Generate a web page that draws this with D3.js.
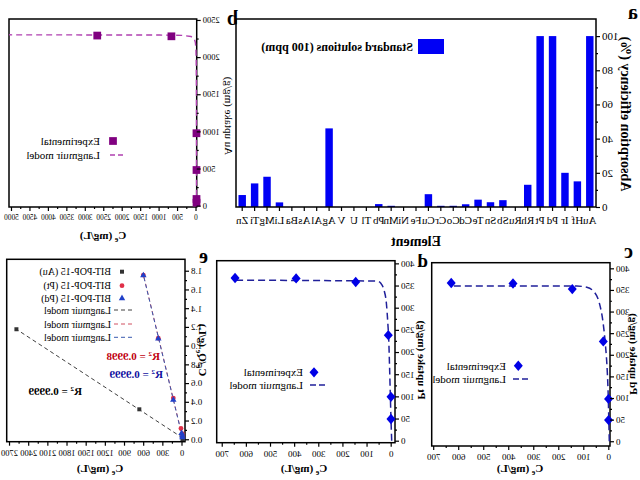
<!DOCTYPE html>
<html><head><meta charset="utf-8">
<script src="https://cdn.jsdelivr.net/npm/d3@7"></script>
<style>
body{margin:0;background:#fff}
svg{display:block}
text{font-family:"Liberation Serif","Times New Roman",serif;fill:#000}
</style>
</head><body>
<svg id="chart" width="640" height="480"></svg>
<script>
// ---------- Panel a : selectivity ----------
const elements = ["Au","Hf","Ir","Pd","Pt","Rh","Ru","Sb","Sn","Te","Cd","Co","Cr","Cu","Fe","Ni","Mn","Pb","Tl","U","V","Ag","Al","As","Ba","Li","Mg","Ti","Zn"];
const efficiency = [100,15,20,100,100,13,0,4,2.8,4.3,1.6,0.7,0.7,7.5,0,0,0.7,1.7,0,0,0,46,0,0,0,2.7,17.7,13.8,7];
const aTicks = [0,20,40,60,80,100];
const aMinor = [10,30,50,70,90];

// ---------- Panel b : Au isotherm ----------
const auCe = [0.2,0.3,0.7,1.5,680,2690];
const auQe = [40,90,480,975,2280,2290];
const auFitCe = [0,0.2,0.5,1,2,4,8,15,30,60,150,400,1000,5080];
const auFitQe = [0,282,596,947,1342,1695,1952,2100,2195,2247,2278,2292,2297,2300];
const bXTicks = [0,500,1000,1500,2000,2500,3000,3500,4000,4500,5000];
const bYTicks = [0,500,1000,1500,2000,2500];

// ---------- Panel c : Pd isotherm ----------
const pdCe = [3,3,24,148,385,632];
const pdQe = [49,98,231,352,365,366];
const pdFitCe = [0,2,4,8,15,25,40,60,90,130,632];
const pdFitQe = [0,50,100,160,220,275,320,345,356,359,359];

// ---------- Panel d : Pt isotherm ----------
const ptCe = [3,3,14,149,396,649];
const ptQe = [49,99,238,358,366,367];
const ptFitCe = [0,3,6,9,12,16,22,32,45,60,649];
const ptFitQe = [0,50,110,170,225,265,310,340,355,360,362];
const cdXTicks = [0,100,200,300,400,500,600,700];
const cdYTicks = [0,50,100,150,200,250,300,350,400];

// ---------- Panel e : linear Langmuir ----------
const eAuCe = [1,676,2600];
const eAuY = [0.002,0.32,1.175];
const ePtCe = [2,3,24,144,379,613];
const ePtY = [0.03,0.06,0.115,0.44,1.08,1.754];
const ePdCe = [2,3,14,144,379,613];
const ePdY = [0.02,0.04,0.065,0.42,1.075,1.75];
const eAuFitCe = [0,2600], eAuFitY = [0.015,1.175];
const ePtFitCe = [0,613], ePtFitY = [0.02,1.76];
const ePdFitCe = [0,613], ePdFitY = [0.015,1.755];
const eXTicks = [0,300,600,900,1200,1500,1800,2100,2400,2700];
const eYTicks = [0,0.2,0.4,0.6,0.8,1.0,1.2,1.4,1.6,1.8];
const eLegend = ["BIT-POP-15 (Au)","BIT-POP-15 (Pt)","BIT-POP-15 (Pd)","Langmuir model","Langmuir model","Langmuir model"];

const svg = d3.select("#chart");
svg.append("rect").attr("width",640).attr("height",480).attr("fill","#fff");
// whole figure is mirrored horizontally
const root = svg.append("g").attr("transform","translate(640,0) scale(-1,1)");

function frame(x0,y0,x1,y1){
  root.append("rect").attr("x",x0).attr("y",y0).attr("width",x1-x0).attr("height",y1-y0)
    .attr("fill","none").attr("stroke","#000").attr("stroke-width",1.5);
}
function styleAxis(g,fs){
  g.select(".domain").remove();
  g.selectAll("line").attr("stroke","#000").attr("stroke-width",1.2);
  g.selectAll("text").attr("font-size",fs).attr("font-family","Liberation Serif");
}
function yAxis(scale,x,ticks,minor,fs,fmt){
  const g = root.append("g").attr("transform",`translate(${x},0)`)
    .call(d3.axisLeft(scale).tickValues(ticks).tickSize(4).tickPadding(2).tickSizeOuter(0).tickFormat(fmt||(d=>d)));
  styleAxis(g,fs);
  if(minor){
    const m = root.append("g").attr("transform",`translate(${x},0)`)
      .call(d3.axisLeft(scale).tickValues(minor).tickSize(2).tickFormat(""));
    styleAxis(m,fs);
  }
}
function xAxis(scale,y,ticks,minor,fs,fmt,pad){
  const g = root.append("g").attr("transform",`translate(0,${y})`)
    .call(d3.axisBottom(scale).tickValues(ticks).tickSize(4).tickPadding(pad||2).tickSizeOuter(0).tickFormat(fmt||(d=>d)));
  styleAxis(g,fs);
  if(minor){
    const m = root.append("g").attr("transform",`translate(0,${y})`)
      .call(d3.axisBottom(scale).tickValues(minor).tickSize(2).tickFormat(""));
    styleAxis(m,fs);
  }
}
function label(t,x,y,size){
  root.append("text").attr("x",x).attr("y",y).attr("font-size",size||20).attr("font-weight","bold").text(t);
}
function yTitle(parts,x,y,fs,bold){
  const t = root.append("text").attr("transform",`translate(${x},${y}) rotate(-90)`)
    .attr("text-anchor","middle").attr("font-size",fs).attr("font-weight",bold?"bold":"normal");
  parts.forEach(p=>{
    const s=t.append("tspan").text(p.t);
    if(p.sub) s.attr("font-size",fs*0.7).attr("dy",3);
    if(p.back) s.attr("dy",-3);
  });
}
function xTitle(x,y,fs){
  const t = root.append("text").attr("x",x).attr("y",y).attr("text-anchor","middle")
    .attr("font-size",fs).attr("font-weight","bold");
  t.append("tspan").text("C");
  t.append("tspan").text("e").attr("font-size",fs*0.7).attr("dy",3);
  t.append("tspan").text(" (mg/L)").attr("dy",-3);
}
const sq = d3.symbol().type(d3.symbolSquare);
const dia = (x,y,r)=>`M${x},${y-r*1.15}L${x+r},${y}L${x},${y+r*1.15}L${x-r},${y}Z`;

// ================= Panel a =================
const ax = d3.scaleBand().domain(elements).range([44,404]).paddingInner(0.4).paddingOuter(0.2);
const ay = d3.scaleLinear().domain([0,110]).range([207,19]);
root.append("g").selectAll("rect").data(elements).join("rect")
  .attr("x",d=>ax(d)).attr("width",ax.bandwidth())
  .attr("y",(d,i)=>ay(efficiency[i])).attr("height",(d,i)=>ay(0)-ay(efficiency[i]))
  .attr("fill","#0000f5");
frame(44,19,404,207);
yAxis(ay,44,aTicks,aMinor,11);
xAxis(ax,207,elements,null,11,null,5);
root.append("rect").attr("x",196).attr("y",39).attr("width",26).attr("height",15).attr("fill","#0000f5");
root.append("text").attr("x",227).attr("y",51).attr("font-size",12).attr("font-weight","bold").text("Standard solutions (100 ppm)");
yTitle([{t:"Absorption efficiency (%)"}],19,114,14,true);
root.append("text").attr("x",224).attr("y",246).attr("text-anchor","middle").attr("font-size",14).attr("font-weight","bold").text("Element");
label("a",2,19,20);

// ================= Panel b =================
const bx = d3.scaleLinear().domain([-5,5081]).range([443.3,631]);
const by = d3.scaleLinear().domain([-18,2513]).range([207,19]);
frame(443.3,19,631,207);
root.append("path").datum(auFitCe.map((c,i)=>[c,auFitQe[i]]))
  .attr("d",d3.line().x(d=>bx(d[0])).y(d=>by(d[1])))
  .attr("fill","none").attr("stroke","#b040b0").attr("stroke-width",1.4).attr("stroke-dasharray","6,4");
root.append("g").selectAll("path").data(auCe).join("path")
  .attr("d",sq.size(60)).attr("transform",(d,i)=>`translate(${bx(d)},${by(auQe[i])})`)
  .attr("fill","#800080");
yAxis(by,443.3,bYTicks,[250,750,1250,1750,2250],8.5);
xAxis(bx,207,bXTicks,[250,750,1250,1750,2250,2750,3250,3750,4250,4750],7.3,null,4);
root.append("path").attr("d",sq.size(60)).attr("transform","translate(527,141)").attr("fill","#800080");
root.append("line").attr("x1",517).attr("x2",533).attr("y1",155).attr("y2",155)
  .attr("stroke","#b040b0").attr("stroke-width",1.4).attr("stroke-dasharray","5,3");
root.append("text").attr("x",540).attr("y",145).attr("font-size",11).text("Experimental");
root.append("text").attr("x",540).attr("y",159).attr("font-size",11).text("Langmuir model");
yTitle([{t:"Au uptake (mg/g)"}],415,116,11,false);
xTitle(537,239,11);
label("b",402,25,20);

// ================= Panel c =================
const cx = d3.scaleLinear().domain([-2.8,710]).range([30,208.3]);
const cy = d3.scaleLinear().domain([-11,413]).range([446,262.7]);
frame(30,262.7,208.3,446);
root.append("path").datum(pdFitCe.map((c,i)=>[c,pdFitQe[i]]))
  .attr("d",d3.line().curve(d3.curveMonotoneX).x(d=>cx(d[0])).y(d=>cy(d[1])))
  .attr("fill","none").attr("stroke","#20209a").attr("stroke-width",1.5).attr("stroke-dasharray","7,4");
root.append("g").selectAll("path").data(pdCe).join("path")
  .attr("d",(d,i)=>dia(cx(d),cy(pdQe[i]),4.5)).attr("fill","#0000e6");
yAxis(cy,30,cdYTicks,[25,75,125,175,225,275,325,375],9);
xAxis(cx,446,cdXTicks,[50,150,250,350,450,550,650],9,null,4);
root.append("path").attr("d",dia(121.7,365.7,4.5)).attr("fill","#0000e6");
root.append("line").attr("x1",112).attr("x2",129).attr("y1",379).attr("y2",379)
  .attr("stroke","#20209a").attr("stroke-width",1.5).attr("stroke-dasharray","6,3");
root.append("text").attr("x",134).attr("y",369.5).attr("font-size",11).text("Experimental");
root.append("text").attr("x",134).attr("y",383).attr("font-size",11).text("Langmuir model");
yTitle([{t:"Pd uptake (mg/g)"}],10,354,11,true);
xTitle(120,472,11);
label("c",7,258,20);

// ================= Panel d =================
const dx = d3.scaleLinear().domain([-13.7,725]).range([245,423.3]);
const dy = d3.scaleLinear().domain([-4.5,406]).range([442.7,260.7]);
frame(245,260.7,423.3,442.7);
root.append("path").datum(ptFitCe.map((c,i)=>[c,ptFitQe[i]]))
  .attr("d",d3.line().curve(d3.curveMonotoneX).x(d=>dx(d[0])).y(d=>dy(d[1])))
  .attr("fill","none").attr("stroke","#20209a").attr("stroke-width",1.5).attr("stroke-dasharray","7,4");
root.append("g").selectAll("path").data(ptCe).join("path")
  .attr("d",(d,i)=>dia(dx(d),dy(ptQe[i]),4.5)).attr("fill","#0000e6");
yAxis(dy,245,cdYTicks,[25,75,125,175,225,275,325,375],9);
xAxis(dx,442.7,cdXTicks,[50,150,250,350,450,550,650],9,null,4);
root.append("path").attr("d",dia(326,372.3,4.5)).attr("fill","#0000e6");
root.append("line").attr("x1",315).attr("x2",331).attr("y1",385).attr("y2",385)
  .attr("stroke","#20209a").attr("stroke-width",1.5).attr("stroke-dasharray","6,3");
root.append("text").attr("x",337).attr("y",376).attr("font-size",11).text("Experimental");
root.append("text").attr("x",337).attr("y",389).attr("font-size",11).text("Langmuir model");
yTitle([{t:"Pt uptake (mg/g)"}],222,360,11,true);
xTitle(336,472,11);
label("d",212,267,19);

// ================= Panel e =================
const ex = d3.scaleLinear().domain([-39,2752]).range([455,633.3]);
const ey = d3.scaleLinear().domain([-0.026,1.922]).range([441.7,259.3]);
frame(455,259.3,633.3,441.7);
const eLine = d3.line().x(d=>ex(d[0])).y(d=>ey(d[1]));
root.append("path").datum(eAuFitCe.map((c,i)=>[c,eAuFitY[i]])).attr("d",eLine)
  .attr("fill","none").attr("stroke","#404040").attr("stroke-width",1).attr("stroke-dasharray","4,3");
root.append("path").datum(ePtFitCe.map((c,i)=>[c,ePtFitY[i]])).attr("d",eLine)
  .attr("fill","none").attr("stroke","#d05060").attr("stroke-width",1).attr("stroke-dasharray","4,3");
root.append("path").datum(ePdFitCe.map((c,i)=>[c,ePdFitY[i]])).attr("d",eLine)
  .attr("fill","none").attr("stroke","#3a5ab0").attr("stroke-width",1).attr("stroke-dasharray","4,3");
root.append("g").selectAll("path").data(eAuCe).join("path")
  .attr("d",sq.size(16)).attr("transform",(d,i)=>`translate(${ex(d)},${ey(eAuY[i])})`).attr("fill","#333");
root.append("g").selectAll("circle").data(ePtCe).join("circle")
  .attr("cx",d=>ex(d)).attr("cy",(d,i)=>ey(ePtY[i])).attr("r",2.4).attr("fill","#e03048");
const tri = d3.symbol().type(d3.symbolTriangle).size(18);
root.append("g").selectAll("path").data(ePdCe).join("path")
  .attr("d",tri).attr("transform",(d,i)=>`translate(${ex(d)},${ey(ePdY[i])})`).attr("fill","#2040c8");
yAxis(ey,455,eYTicks,[0.1,0.3,0.5,0.7,0.9,1.1,1.3,1.5,1.7],9,d3.format(".1f"));
xAxis(ex,441.7,eXTicks,[150,450,750,1050,1350,1650,1950,2250,2550],8.5,null,4);
// legend
const ly = [271.7,285.7,298.3,310,324,337.3];
root.append("path").attr("d",sq.size(16)).attr("transform",`translate(518,${ly[0]})`).attr("fill","#333");
root.append("circle").attr("cx",518).attr("cy",ly[1]).attr("r",2.4).attr("fill","#e03048");
root.append("path").attr("d",tri).attr("transform",`translate(518,${ly[2]})`).attr("fill","#2040c8");
["#404040","#d05060","#3a5ab0"].forEach((c,i)=>{
  root.append("line").attr("x1",508).attr("x2",527).attr("y1",ly[3+i]).attr("y2",ly[3+i])
    .attr("stroke",c).attr("stroke-width",1).attr("stroke-dasharray","4,3");
});
eLegend.forEach((t,i)=>{
  root.append("text").attr("x",529).attr("y",ly[i]+3.5).attr("font-size",10).text(t);
});
function r2(x,y,val,color){
  const t = root.append("text").attr("x",x).attr("y",y).attr("font-size",11).attr("font-weight","bold").attr("fill",color).style("fill",color);
  t.append("tspan").text("R");
  t.append("tspan").text("2").attr("font-size",7).attr("dy",-4);
  t.append("tspan").text(" = "+val).attr("dy",4);
}
r2(480,360,"0.9998","#c00010");
r2(477,378,"0.9999","#1010a0");
r2(558,395,"0.9999","#000");
yTitle([{t:"C"},{t:"e",sub:true},{t:"/Q",back:true},{t:"e",sub:true},{t:" (g/L)",back:true}],441,350,11,true);
xTitle(540,472,11);
label("e",432,263,20);
</script>
</body></html>
